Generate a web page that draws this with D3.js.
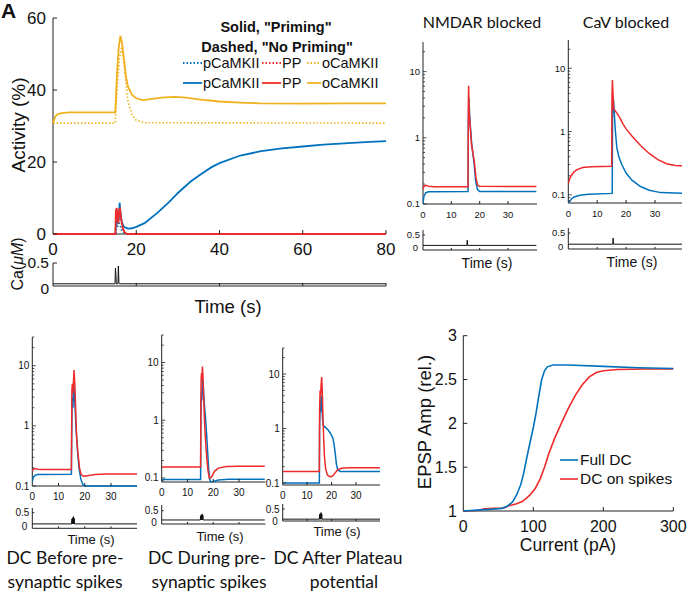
<!DOCTYPE html>
<html>
<head>
<meta charset="utf-8">
<script src="https://cdn.jsdelivr.net/npm/d3@7"></script>
<style>
body { margin: 0; background: #fff; }
svg { display: block; }
</style>
</head>
<body>
<div id="chart"></div>
<script>
var blue = "#0072bd";
var red = "#ee2a2a";
var orange = "#f0b11e";
var axisColor = "#222";
var sansFont = "'Liberation Sans', Arimo, Arial, sans-serif";
var capFont = "Lato, 'Open Sans', sans-serif";

/****** panel A data: time (s), activity (%) ******/
var primeO = [[0,30.8],[0.5,32.5],[1,33.2],[2,33.6],[4,33.8],[14.95,33.8],[15.05,36],[15.4,45],[15.8,52],[16.2,55],[16.6,53],[17,49],[17.5,44],[18,41],[19,38.6],[20,37.7],[21.5,37.2],[23,37.4],[26,37.9],[29,38.1],[32,37.9],[35,37.4],[40,36.8],[45,36.5],[50,36.3],[60,36.2],[70,36.3],[80,36.3]];
var noPrimeO = [[0,30.8],[14.95,30.8],[15.05,33],[15.5,42],[16,49],[16.5,52],[17,48],[17.5,42],[18,37],[19,33],[20,31.6],[22,30.9],[80,30.8]];
var primeP = [[0,0],[15,0],[15.1,2],[15.3,6.5],[15.5,3],[15.8,4],[16,8.7],[16.2,6],[16.5,3.5],[17,2],[18,1.5],[19,1.6],[20,2],[22,3],[25,5.8],[28,9],[30,11.4],[33,14.5],[35,16.2],[38,18.5],[40,19.7],[45,21.8],[50,23],[55,23.8],[60,24.3],[65,24.8],[70,25.2],[75,25.5],[80,25.8]];
var noPrimeP = [[0,0],[15,0],[15.1,2],[15.3,4],[15.5,2],[15.8,3.5],[16.1,2.5],[16.5,1],[17,0.3],[17.5,0],[80,0]];
var primePP = [[0,0],[15,0],[15.1,6.5],[15.3,7.2],[15.5,4],[15.7,3],[15.9,6.8],[16.1,7],[16.4,4],[16.8,1.5],[17.3,0.3],[17.8,0],[80,0]];
var noPrimePP = [[0,0],[15,0],[15.1,6],[15.3,7],[15.5,4],[15.8,6.5],[16.1,6.8],[16.4,3.5],[16.8,1.3],[17.3,0.3],[17.8,0],[80,0]];
var mainCa = [[0,0.1],[14.9,0.1],[15,0.4],[15.1,0.3],[15.2,0.1],[15.6,0.1],[15.7,0.44],[15.85,0.12],[16,0.1],[80,0.1]];
var mainXTicks = [0,20,40,60,80];
var mainYTicks = [0,20,40,60];

/****** small panels: time (s), activity (%, log) ******/
var nmdaPP = [[0,0.165],[0.3,0.185],[1,0.192],[2,0.186],[4,0.183],[15.9,0.183],[16,3],[16.1,6.1],[16.3,2.5],[17.1,0.8],[18.1,0.44],[18.7,0.25],[19.3,0.19],[20,0.185],[40,0.184]];
var nmdaPC = [[0,0.1],[0.3,0.13],[1,0.148],[2,0.153],[15.9,0.154],[16,1.5],[16.2,4],[16.5,2],[17.2,0.8],[18,0.42],[18.6,0.22],[19.2,0.165],[20,0.155],[40,0.155]];
var nmdaCa = [[0,0.1],[15.5,0.1],[15.6,0.3],[15.75,0.1],[40,0.1]];

var cavPP = [[0,0.15],[0.5,0.18],[1,0.2],[2,0.23],[3,0.25],[5,0.27],[8,0.278],[15,0.282],[15.1,3],[15.25,6.5],[15.7,2.3],[17,1.9],[18,1.6],[19,1.3],[20,1.1],[22,0.85],[25,0.6],[28,0.45],[31,0.36],[34,0.31],[37,0.29],[40,0.285]];
var cavPC = [[0,0.074],[0.5,0.078],[1,0.085],[2,0.092],[4,0.098],[7,0.102],[15.2,0.105],[15.3,1.5],[15.45,3.5],[15.7,3],[15.9,2],[16.3,1],[16.8,0.55],[17.5,0.4],[18.5,0.3],[20,0.22],[22,0.17],[25,0.135],[28,0.118],[32,0.108],[40,0.105]];
var cavCa = [[0,0.1],[15.4,0.1],[15.5,0.32],[15.65,0.1],[40,0.1]];

var dc1PP = [[0,0.175],[0.4,0.19],[1,0.195],[2,0.19],[4,0.188],[14.9,0.188],[15,1],[15.1,4],[15.3,5],[15.5,3.5],[15.7,5.5],[15.9,8.5],[16.1,6],[16.3,4],[16.6,1.5],[16.9,0.65],[17.4,0.35],[18,0.2],[18.6,0.155],[19.5,0.145],[21,0.148],[24,0.155],[28,0.158],[40,0.158]];
var dc1PC = [[0,0.12],[0.4,0.14],[1,0.15],[2,0.155],[14.9,0.157],[15,0.5],[15.2,3],[15.5,2],[15.7,5],[16,3.5],[16.3,2],[16.7,0.9],[17.2,0.4],[17.8,0.2],[18.5,0.13],[19.3,0.105],[20,0.1],[40,0.1]];
var dc2PP = [[0,0.155],[15.1,0.155],[15.2,2],[15.3,5],[15.45,6.5],[15.6,5],[15.8,8.5],[16,6],[16.3,2.5],[16.6,1],[17,0.45],[17.5,0.22],[18,0.13],[18.5,0.1],[19,0.1],[19.5,0.108],[20.5,0.13],[22,0.148],[25,0.158],[30,0.16],[40,0.16]];
var dc2PC = [[0,0.094],[15.1,0.094],[15.2,1],[15.4,3],[15.6,2.2],[15.8,5],[16.1,4],[16.5,2],[17,1.1],[17.4,0.6],[17.8,0.3],[18.2,0.15],[18.6,0.095],[19,0.086],[20,0.087],[22,0.092],[26,0.095],[40,0.095]];
var dc3PP = [[0,0.163],[15,0.163],[15.1,2],[15.3,5],[15.5,4],[15.7,6],[15.95,8.8],[16.2,5],[16.5,1.5],[16.8,0.6],[17.1,0.3],[17.6,0.18],[18.3,0.14],[19.5,0.13],[20.5,0.135],[21.5,0.155],[22.5,0.175],[24,0.187],[27,0.19],[40,0.19]];
var dc3PC = [[0,0.1],[15,0.1],[15.1,1],[15.2,1.7],[15.35,3.2],[15.5,2],[15.7,4],[16,3],[16.3,1.5],[16.6,1.15],[17.5,1.05],[18.5,0.95],[19.5,0.82],[20.5,0.68],[21,0.52],[21.5,0.35],[22,0.22],[22.5,0.175],[23.5,0.163],[40,0.163]];
var dcCa = [[0,0.1],[15,0.1],[15.1,0.28],[15.2,0.1],[15.4,0.32],[15.5,0.1],[15.7,0.36],[15.8,0.1],[16,0.3],[16.1,0.1],[40,0.1]];
var smallXTicks = [0,10,20,30];

/****** EPSP amplitude vs current ******/
var fullDC = [[0,1],[20,1.01],[40,1.02],[55,1.03],[62,1.05],[70,1.1],[76,1.18],[82,1.3],[86,1.42],[90,1.58],[95,1.77],[100,1.95],[104,2.12],[108,2.32],[112,2.5],[116,2.6],[120,2.645],[128,2.665],[150,2.665],[200,2.65],[250,2.635],[300,2.625]];
var dcSpikes = [[0,1],[20,1.005],[30,1.025],[45,1.03],[58,1.035],[65,1.06],[75,1.08],[85,1.11],[95,1.18],[103,1.26],[110,1.37],[116,1.5],[122,1.65],[130,1.82],[140,2],[150,2.17],[160,2.32],[170,2.44],[180,2.53],[190,2.58],[200,2.6],[220,2.615],[260,2.62],[300,2.62]];
var epspXTicks = [0,100,200,300];
var epspYTicks = [1,1.5,2,2.5,3];

var svg = d3.select("#chart").append("svg")
    .attr("width", 689)
    .attr("height", 595)
    .style("font-family", sansFont);

function hline(g, x1, x2, yy) {
    g.append("line").attr("x1", x1).attr("x2", x2).attr("y1", yy).attr("y2", yy)
        .attr("stroke", axisColor).attr("stroke-width", 1);
}
function vline(g, xx, y1, y2) {
    g.append("line").attr("x1", xx).attr("x2", xx).attr("y1", y1).attr("y2", y2)
        .attr("stroke", axisColor).attr("stroke-width", 1);
}
function label(g, txt, xx, yy, size, anchor) {
    return g.append("text").attr("x", xx).attr("y", yy)
        .attr("text-anchor", anchor || "middle")
        .style("font-family", sansFont)
        .style("font-size", size + "px").attr("fill", "#111").text(txt);
}

/*************************************** panel A *************************************/
var x = d3.scaleLinear().domain([0, 80]).range([53, 386]);
var y = d3.scaleLinear().domain([0, 60]).range([234, 18]);
var yCa = d3.scaleLinear().domain([0, 0.5]).range([289, 263]);
var gA = svg.append("g");

var lineA = d3.line().x(function(d) { return x(d[0]); }).y(function(d) { return y(d[1]); });
var dotted = "1.5,2";
[[noPrimeO, orange], [noPrimeP, blue], [noPrimePP, red]].forEach(function(s) {
    gA.append("path").attr("d", lineA(s[0])).attr("fill", "none")
        .attr("stroke", s[1]).attr("stroke-width", 1.6).attr("stroke-dasharray", dotted);
});
vline(gA, 53, 18, 234);
hline(gA, 53, 386, 234);
[[primeP, blue], [primePP, red], [primeO, orange]].forEach(function(s) {
    gA.append("path").attr("d", lineA(s[0])).attr("fill", "none")
        .attr("stroke", s[1]).attr("stroke-width", 1.8);
});
mainYTicks.forEach(function(t) {
    gA.append("line").attr("x1", 53).attr("x2", 57).attr("y1", y(t)).attr("y2", y(t)).attr("stroke", axisColor);
    label(gA, t, 46, y(t), 17, "end").attr("dy", "0.35em");
});
mainXTicks.forEach(function(t) {
    if (t > 0) gA.append("line").attr("x1", x(t)).attr("x2", x(t)).attr("y1", 234).attr("y2", 230).attr("stroke", axisColor);
    label(gA, t, x(t), 255, 17);
});
gA.append("text").attr("transform", "translate(25,125) rotate(-90)")
    .attr("text-anchor", "middle").style("font-size", "19px").attr("fill", "#111").text("Activity (%)");

// Ca strip
vline(gA, 53, 263, 286);
hline(gA, 53, 386, 286);
mainXTicks.forEach(function(t) {
    if (t > 0) gA.append("line").attr("x1", x(t)).attr("x2", x(t)).attr("y1", 286).attr("y2", 283).attr("stroke", axisColor);
});
gA.append("line").attr("x1", 53).attr("x2", 57).attr("y1", yCa(0.5)).attr("y2", yCa(0.5)).attr("stroke", axisColor);
gA.append("path").attr("d", d3.line().x(function(d) { return x(d[0]); }).y(function(d) { return yCa(d[1]); })(mainCa))
    .attr("fill", "none").attr("stroke", "#111").attr("stroke-width", 1);
label(gA, "0.5", 49, yCa(0.5), 15.5, "end").attr("dy", "0.35em");
label(gA, "0", 49, yCa(0), 15.5, "end").attr("dy", "0.35em");
var caLab = gA.append("text").attr("transform", "translate(23,264) rotate(-90)")
    .attr("text-anchor", "middle").style("font-size", "16px").attr("fill", "#111");
caLab.append("tspan").text("Ca(");
caLab.append("tspan").style("font-style", "italic").text("\u03bcM");
caLab.append("tspan").text(")");
label(gA, "Time (s)", 228, 313, 18.5);

// legend
label(gA, "Solid, \"Priming\"", 276, 32, 14.5).style("font-weight", "bold");
label(gA, "Dashed, \"No Priming\"", 277, 52, 14.5).style("font-weight", "bold");
var legItems = [["pCaMKII", blue, 183, 202, 203], ["PP", red, 262, 281, 282], ["oCaMKII", orange, 307, 321, 322]];
[[63, dotted], [83, null]].forEach(function(row) {
    legItems.forEach(function(it) {
        var ln = gA.append("line").attr("x1", it[2]).attr("x2", it[3]).attr("y1", row[0]).attr("y2", row[0])
            .attr("stroke", it[1]).attr("stroke-width", 1.8);
        if (row[1]) ln.attr("stroke-dasharray", row[1]);
        label(gA, it[0], it[4], row[0], 14.5, "start").attr("dy", "0.35em");
    });
});
label(gA, "A", 1, 18, 21, "start").style("font-weight", "bold");

/*************************************** small log panels *************************************/
function smallPanel(c) {
    var g = svg.append("g");
    var sx = d3.scaleLinear().domain([0, 30]).range([c.x0, c.x30]);
    var sy = d3.scaleLog().domain(c.yDom).range([c.yBot, c.yTop]);
    var sc = d3.scaleLinear().domain([0, 0.5]).range([c.ca0, c.ca05]);
    var clipId = "clip-" + c.id;
    g.append("clipPath").attr("id", clipId).append("rect")
        .attr("x", c.x0).attr("y", c.yTop).attr("width", c.x1 - c.x0).attr("height", c.yBot - c.yTop + 2);
    var ln = d3.line().x(function(d) { return sx(d[0]); }).y(function(d) { return sy(d[1]); });

    vline(g, c.x0, c.yTop, c.yBot);
    hline(g, c.x0, c.x1, c.yBot);
    g.append("path").attr("d", ln(c.pc)).attr("clip-path", "url(#" + clipId + ")")
        .attr("fill", "none").attr("stroke", blue).attr("stroke-width", 1.5);
    g.append("path").attr("d", ln(c.pp)).attr("clip-path", "url(#" + clipId + ")")
        .attr("fill", "none").attr("stroke", red).attr("stroke-width", 1.5);

    var lo = Math.floor(Math.log10(c.yDom[0])), hi = Math.ceil(Math.log10(c.yDom[1]));
    for (var e = lo; e <= hi; e++) {
        for (var k = 1; k < 10; k++) {
            var v = k * Math.pow(10, e);
            if (v < c.yDom[0] || v > c.yDom[1]) continue;
            g.append("line").attr("x1", c.x0).attr("x2", c.x0 + (k === 1 ? 3.5 : 2))
                .attr("y1", sy(v)).attr("y2", sy(v)).attr("stroke", axisColor).attr("stroke-width", 0.8);
            if (k === 1) label(g, +v.toPrecision(1), c.x0 - 3, sy(v), c.fs, "end").attr("dy", "0.35em");
        }
    }
    smallXTicks.forEach(function(t) {
        if (t > 0) {
            g.append("line").attr("x1", sx(t)).attr("x2", sx(t)).attr("y1", c.yBot).attr("y2", c.yBot - 3).attr("stroke", axisColor);
            g.append("line").attr("x1", sx(t)).attr("x2", sx(t)).attr("y1", c.caBot).attr("y2", c.caBot - 2).attr("stroke", axisColor);
        }
        label(g, t, sx(t), c.yBot + 4 + c.fs, c.fs);
    });

    // Ca strip
    vline(g, c.x0, c.caTop, c.caBot);
    hline(g, c.x0, c.x1, c.caBot);
    g.append("line").attr("x1", c.x0).attr("x2", c.x0 + 2).attr("y1", sc(0.5)).attr("y2", sc(0.5)).attr("stroke", axisColor);
    var caTrim = c.ca.map(function(d) { return [Math.min(d[0], sx.invert(c.x1)), d[1]]; });
    g.append("path").attr("d", d3.line().x(function(d) { return sx(d[0]); }).y(function(d) { return sc(d[1]); })(caTrim))
        .attr("fill", "none").attr("stroke", "#111").attr("stroke-width", 1);
    label(g, "0.5", c.x0 - 3, sc(0.5), c.fs, "end").attr("dy", "0.35em");
    label(g, "0", c.x0 - 5, sc(0), c.fs, "end").attr("dy", "0.35em");
    label(g, "Time (s)", c.tx, c.ty, c.tfs);

    if (c.title) label(g, c.title, c.titleX, 28, 16).style("font-family", capFont);
    if (c.cap) c.cap.forEach(function(cp) {
        label(g, cp[0], cp[1], cp[2], 17.5).style("font-family", capFont);
    });
}

smallPanel({id: "nmda", x0: 423, x30: 508, x1: 537, yTop: 42, yBot: 204, yDom: [0.1, 28],
    caTop: 230, ca05: 235, ca0: 248, caBot: 250, pp: nmdaPP, pc: nmdaPC, ca: nmdaCa,
    fs: 9.5, tx: 487, ty: 268, tfs: 14, title: "NMDAR blocked", titleX: 482});
smallPanel({id: "cav", x0: 568.3, x30: 655, x1: 682, yTop: 40, yBot: 203, yDom: [0.074, 28],
    caTop: 228, ca05: 233, ca0: 247, caBot: 249, pp: cavPP, pc: cavPC, ca: cavCa,
    fs: 9.5, tx: 632, ty: 267, tfs: 14, title: "CaV blocked", titleX: 626});
smallPanel({id: "dc1", x0: 32.3, x30: 111, x1: 137, yTop: 337, yBot: 486, yDom: [0.1, 30],
    caTop: 508, ca05: 512.7, ca0: 526.7, caBot: 528.3, pp: dc1PP, pc: dc1PC, ca: dcCa,
    fs: 10, tx: 91, ty: 544, tfs: 13, cap: [["DC Before pre-", 65, 564], ["synaptic spikes", 65, 588]]});
smallPanel({id: "dc2", x0: 161.7, x30: 239, x1: 265.5, yTop: 335, yBot: 482, yDom: [0.085, 30],
    caTop: 505, ca05: 510.7, ca0: 522.3, caBot: 524, pp: dc2PP, pc: dc2PC, ca: dcCa,
    fs: 10, tx: 220, ty: 541, tfs: 13, cap: [["DC During pre-", 207, 564], ["synaptic spikes", 209, 588]]});
smallPanel({id: "dc3", x0: 282.7, x30: 356, x1: 380, yTop: 348, yBot: 485, yDom: [0.092, 30],
    caTop: 504, ca05: 509, ca0: 521.7, caBot: 521, pp: dc3PP, pc: dc3PC, ca: dcCa,
    fs: 10, tx: 337, ty: 536, tfs: 13, cap: [["DC After Plateau", 338, 564], ["potential", 344, 588]]});

/*************************************** EPSP panel *************************************/
var ex = d3.scaleLinear().domain([0, 300]).range([463.3, 673.3]);
var ey = d3.scaleLinear().domain([1, 3]).range([511, 335.7]);
var gE = svg.append("g");
vline(gE, ex(0), ey(3), ey(1));
hline(gE, ex(0), ex(300), ey(1));
epspYTicks.forEach(function(t) {
    gE.append("line").attr("x1", ex(0)).attr("x2", ex(0) + 4).attr("y1", ey(t)).attr("y2", ey(t)).attr("stroke", axisColor);
    label(gE, t, 457, ey(t), 16, "end").attr("dy", "0.35em");
});
epspXTicks.forEach(function(t) {
    if (t > 0) gE.append("line").attr("x1", ex(t)).attr("x2", ex(t)).attr("y1", ey(1)).attr("y2", ey(1) - 4).attr("stroke", axisColor);
    label(gE, t, ex(t), 532, 16);
});
var lineE = d3.line().x(function(d) { return ex(d[0]); }).y(function(d) { return ey(d[1]); });
gE.append("path").attr("d", lineE(dcSpikes)).attr("fill", "none").attr("stroke", red).attr("stroke-width", 1.6);
gE.append("path").attr("d", lineE(fullDC)).attr("fill", "none").attr("stroke", blue).attr("stroke-width", 1.6);
label(gE, "Current (pA)", 568, 551, 17.5);
gE.append("text").attr("transform", "translate(431,422) rotate(-90)")
    .attr("text-anchor", "middle").style("font-size", "18.5px").attr("fill", "#111").text("EPSP Amp (rel.)");
[["Full DC", blue, 460], ["DC on spikes", red, 479]].forEach(function(it) {
    gE.append("line").attr("x1", 560).attr("x2", 578).attr("y1", it[2]).attr("y2", it[2])
        .attr("stroke", it[1]).attr("stroke-width", 1.6);
    label(gE, it[0], 580, it[2], 15.5, "start").attr("dy", "0.35em");
});
</script>
</body>
</html>
